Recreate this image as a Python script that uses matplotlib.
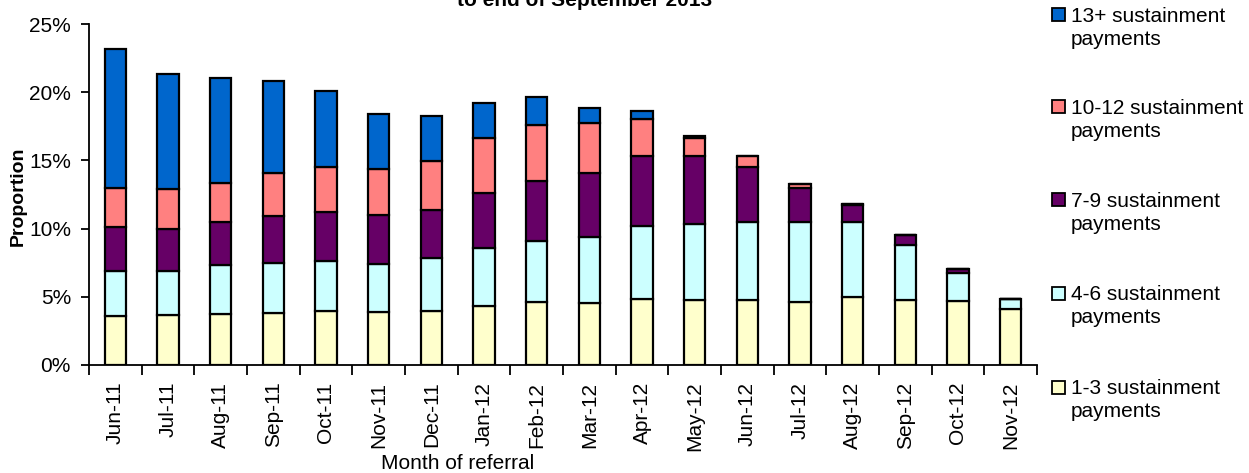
import matplotlib
matplotlib.use('Agg')
from matplotlib import pyplot as plt
from matplotlib.patches import Rectangle
from matplotlib.ticker import PercentFormatter, FixedLocator
import numpy as np

plt.rcParams['font.family'] = ['Liberation Sans', 'DejaVu Sans']

months = ['Jun-11', 'Jul-11', 'Aug-11', 'Sep-11', 'Oct-11', 'Nov-11', 'Dec-11',
          'Jan-12', 'Feb-12', 'Mar-12', 'Apr-12', 'May-12', 'Jun-12', 'Jul-12',
          'Aug-12', 'Sep-12', 'Oct-12', 'Nov-12']

# proportion of referrals (%) by number of sustainment payments
pay_1_3 = [3.59, 3.64, 3.76, 3.81, 3.98, 3.86, 3.98, 4.33, 4.64, 4.55, 4.86, 4.79,
           4.74, 4.59, 4.99, 4.74, 4.67, 4.08]
pay_4_6 = [3.33, 3.28, 3.55, 3.67, 3.67, 3.57, 3.89, 4.22, 4.45, 4.83, 5.35, 5.57,
           5.77, 5.92, 5.47, 4.06, 2.05, 0.73]
pay_7_9 = [3.17, 3.08, 3.15, 3.42, 3.54, 3.54, 3.49, 4.08, 4.40, 4.72, 5.11, 4.99,
           4.03, 2.44, 1.27, 0.70, 0.30, 0.05]
pay_10_12 = [2.89, 2.93, 2.86, 3.18, 3.30, 3.42, 3.62, 4.04, 4.08, 3.64, 2.72, 1.27,
             0.78, 0.30, 0.10, 0.05, 0.05, 0.0]
pay_13_plus = [10.16, 8.40, 7.72, 6.74, 5.60, 4.01, 3.25, 2.56, 2.05, 1.10, 0.61, 0.15,
               0.0, 0.0, 0.0, 0.0, 0.0, 0.0]

series = [
    ('1-3 sustainment payments', pay_1_3, '#FFFFCC'),
    ('4-6 sustainment payments', pay_4_6, '#CCFFFF'),
    ('7-9 sustainment payments', pay_7_9, '#660066'),
    ('10-12 sustainment payments', pay_10_12, '#FF8080'),
    ('13+ sustainment payments', pay_13_plus, '#0066CC'),
]

W, H = 1249, 473
fig = plt.figure(figsize=(W / 100, H / 100), dpi=100)
ax = fig.add_axes([89 / W, 1 - 365 / H, (1037 - 89) / W, (365 - 24) / H])

x = np.arange(len(months))
bottom = np.zeros(len(months))
for name, vals, color in series:
    ax.bar(x, vals, width=0.4, bottom=bottom, color=color, edgecolor='black',
           linewidth=1.6, label=name, zorder=2)
    bottom += np.array(vals)

ax.set_xlim(-0.5, len(months) - 0.5)
ax.set_ylim(0, 25)
ax.set_yticks(np.arange(0, 26, 5))
ax.yaxis.set_major_formatter(PercentFormatter(100, decimals=0))
ax.set_xticks(x)
ax.set_xticklabels(months, rotation=90)
ax.xaxis.set_minor_locator(FixedLocator(np.arange(-0.5, len(months), 1)))
ax.tick_params(axis='x', which='major', length=0, pad=12, labelsize=15)
ax.tick_params(axis='x', which='minor', length=7, width=1.3, direction='out')
ax.tick_params(axis='y', length=6, width=1.3, direction='out', pad=7, labelsize=15)
for side in ['top', 'right']:
    ax.spines[side].set_visible(False)
for side in ['left', 'bottom']:
    ax.spines[side].set_linewidth(1.3)

ax.set_ylabel('Proportion', fontsize=14, fontweight='bold')
ax.yaxis.set_label_coords(-(89 - 27) / (1037 - 89), (365 - 196) / (365 - 24))
fig.text(458 / W, 1 - 469 / H, 'Month of referral', fontsize=15, ha='center', va='baseline')
fig.text(585 / W, 1 - 6 / H, 'to end of September 2013', fontsize=15,
         fontweight='bold', ha='center', va='baseline')

# legend, top entry = top of stack
centres = [387, 293, 200, 107, 15]
for (name, vals, color), cy in zip(series, centres):
    fig.patches.append(Rectangle((1052 / W, 1 - (cy + 6.5) / H), 13 / W, 13 / H,
                                 transform=fig.transFigure, facecolor=color,
                                 edgecolor='black', linewidth=1.3))
    # baseline of the second line
    fig.text(1071 / W, 1 - (cy + 5 + 25) / H, name.replace(' payments', '\npayments'),
             fontsize=15, ha='left', va='baseline', linespacing=1.28)

fig.savefig('out.png', dpi=100)
